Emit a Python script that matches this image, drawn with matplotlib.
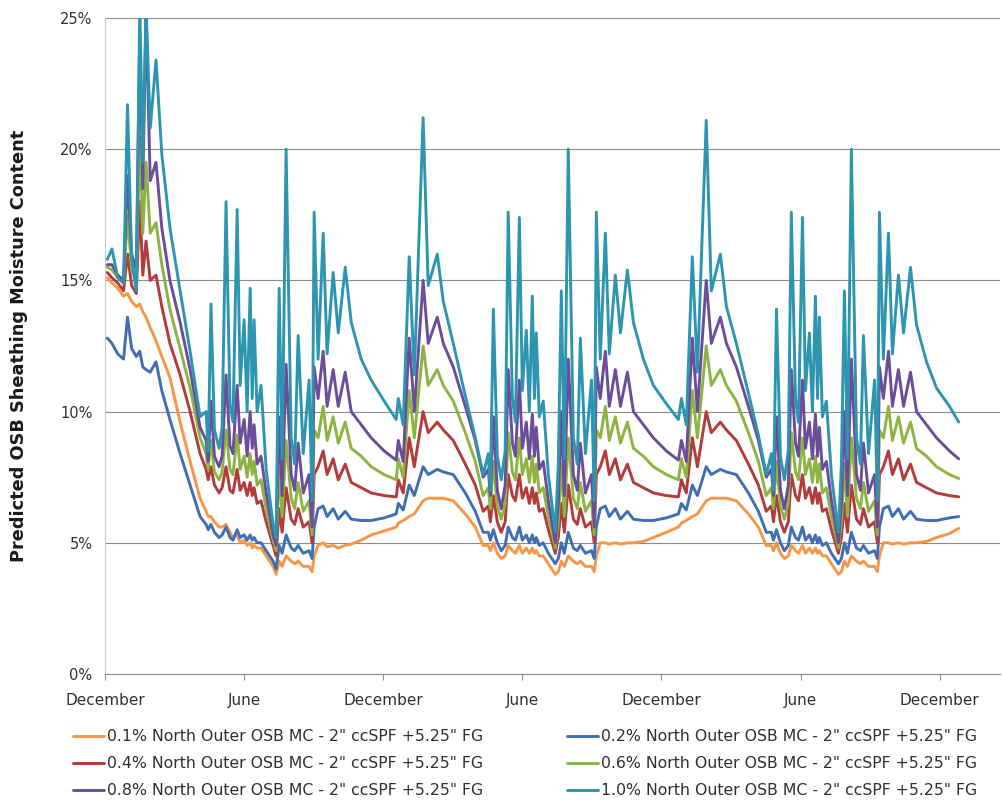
import matplotlib
matplotlib.use("Agg")
import matplotlib.pyplot as plt
from matplotlib.ticker import FuncFormatter

# ---------------- data (months since first December, moisture content %) ----------------
months = [
    # year 1
    0.10, 0.30, 0.55, 0.80, 0.97, 1.15, 1.35, 1.50, 1.63, 1.77,
    1.95, 2.20, 2.45, 2.80, 3.24, 3.67, 4.10, 4.36, 4.45, 4.57,
    4.72, 4.92, 5.05, 5.22, 5.39, 5.52, 5.70, 5.83, 6.00, 6.13,
    6.26, 6.35, 6.43, 6.56, 6.73, 6.95, 7.25, 7.38, 7.51, 7.64,
    7.81, 8.03, 8.18, 8.33, 8.55, 8.80, 8.93, 9.02, 9.19, 9.41,
    9.58, 9.84, 10.06, 10.36, 10.62, 11.05, 11.48, 12.04, 12.56,
    # year 2
    12.65, 12.86, 13.12, 13.34, 13.72, 13.94, 14.33, 14.59, 15.02, 15.54,
    15.97, 16.31, 16.53, 16.62, 16.75, 16.92, 17.09, 17.26, 17.39, 17.57,
    17.70, 17.87, 18.00, 18.17, 18.30, 18.43, 18.52, 18.60, 18.73, 18.90,
    19.12, 19.42, 19.55, 19.68, 19.81, 19.98, 20.20, 20.37, 20.50, 20.72,
    20.98, 21.10, 21.19, 21.36, 21.58, 21.75, 22.01, 22.23, 22.53, 22.79,
    23.22, 23.65, 24.21, 24.73,
    # year 3
    24.86, 25.07, 25.33, 25.55, 25.93, 26.15, 26.54, 26.80, 27.23, 27.75,
    28.18, 28.52, 28.74, 28.83, 28.96, 29.13, 29.30, 29.47, 29.60, 29.78,
    29.91, 30.08, 30.21, 30.38, 30.51, 30.64, 30.73, 30.81, 30.94, 31.11,
    31.33, 31.63, 31.76, 31.89, 32.02, 32.19, 32.41, 32.58, 32.71, 32.93,
    33.19, 33.31, 33.40, 33.57, 33.79, 33.96, 34.22, 34.44, 34.74, 35.00,
    35.43, 35.86, 36.42, 36.82,
]

mc_01 = [
    15.1, 14.9, 14.7, 14.4, 14.5, 14.2, 14.0, 14.1, 13.8, 13.6,
    13.2, 12.7, 12.1, 11.3, 9.6, 8.1, 6.7, 6.2, 6.0, 6.0,
    5.8, 5.6, 5.6, 5.7, 5.4, 5.2, 5.3, 5.0, 5.1, 4.9,
    5.0, 4.8, 4.9, 4.8, 4.8, 4.5, 4.1, 3.8, 4.3, 4.1,
    4.5, 4.3, 4.2, 4.3, 4.1, 4.1, 3.9, 4.5, 4.9, 5.0,
    4.85, 4.9, 4.8, 4.9, 4.95, 5.1, 5.3, 5.45, 5.6,
    5.75, 5.85, 6.0, 6.1, 6.6, 6.7, 6.7, 6.7, 6.6, 6.1,
    5.6, 4.9, 4.9, 4.7, 5.0, 4.6, 4.4, 4.5, 4.9, 4.7,
    4.6, 4.9, 4.6, 4.8, 4.6, 4.8, 4.6, 4.7, 4.5, 4.5,
    4.2, 3.8, 3.9, 4.3, 4.1, 4.5, 4.3, 4.2, 4.3, 4.1,
    4.1, 3.9, 4.5, 5.0, 5.0, 4.95, 5.0, 4.95, 5.0, 5.0,
    5.05, 5.2, 5.4, 5.6,
    5.75, 5.85, 6.0, 6.1, 6.6, 6.7, 6.7, 6.7, 6.6, 6.1,
    5.6, 4.9, 4.9, 4.7, 5.0, 4.6, 4.4, 4.5, 4.9, 4.7,
    4.6, 4.9, 4.6, 4.8, 4.6, 4.8, 4.6, 4.7, 4.5, 4.5,
    4.2, 3.8, 3.9, 4.3, 4.1, 4.5, 4.3, 4.2, 4.3, 4.1,
    4.1, 3.9, 4.5, 5.0, 5.0, 4.95, 5.0, 4.95, 5.0, 5.0,
    5.05, 5.2, 5.35, 5.55,
]

mc_02 = [
    12.8, 12.6, 12.2, 12.0, 13.6, 12.4, 12.1, 12.3, 11.7, 11.6,
    11.5, 11.9, 10.8, 9.7, 8.4, 7.2, 6.0, 5.7, 5.5, 5.7,
    5.4, 5.2, 5.3, 5.6, 5.2, 5.1, 5.5, 5.2, 5.3, 5.1,
    5.3, 5.1, 5.2, 5.0, 5.0, 4.7, 4.3, 4.0, 4.9, 4.6,
    5.3, 4.8, 4.7, 4.9, 4.6, 4.7, 4.4, 5.6, 6.3, 6.4,
    6.0, 6.3, 5.9, 6.2, 5.9, 5.85, 5.85, 5.95, 6.1,
    6.5, 6.25, 7.2, 6.8, 7.9, 7.6, 7.8, 7.7, 7.6, 6.9,
    6.2, 5.4, 5.4, 5.1, 5.5, 5.0, 4.7, 4.9, 5.6, 5.2,
    5.1, 5.6, 5.1, 5.3, 5.0, 5.3, 5.0, 5.2, 4.9, 5.0,
    4.6, 4.2, 4.4, 5.0, 4.6, 5.4, 4.8, 4.7, 4.9, 4.6,
    4.7, 4.4, 5.6, 6.3, 6.4, 6.0, 6.3, 5.9, 6.2, 5.9,
    5.85, 5.85, 5.95, 6.1,
    6.5, 6.25, 7.2, 6.8, 7.9, 7.6, 7.8, 7.7, 7.6, 6.9,
    6.2, 5.4, 5.4, 5.1, 5.5, 5.0, 4.7, 4.9, 5.6, 5.2,
    5.1, 5.6, 5.1, 5.3, 5.0, 5.3, 5.0, 5.2, 4.9, 5.0,
    4.6, 4.2, 4.4, 5.0, 4.6, 5.4, 4.8, 4.7, 4.9, 4.6,
    4.7, 4.4, 5.6, 6.3, 6.4, 6.0, 6.3, 5.9, 6.2, 5.9,
    5.85, 5.85, 5.95, 6.0,
]

mc_04 = [
    15.3, 15.1, 14.9, 14.6, 16.0, 14.8, 14.5, 18.0, 15.2, 16.5,
    15.0, 15.2, 14.0, 12.6, 11.4, 10.0, 8.4, 7.8, 7.4, 7.9,
    7.2, 6.9, 7.1, 7.9, 7.0, 6.9, 7.8, 7.0, 7.3, 6.8,
    7.3, 6.8, 7.1, 6.5, 6.6, 5.8, 4.9, 4.5, 6.3, 5.4,
    7.1, 5.9, 5.7, 6.3, 5.6, 5.8, 5.0, 7.6, 7.9, 8.5,
    7.6, 8.2, 7.4, 8.0, 7.3, 7.1, 6.9, 6.8, 6.75,
    7.4, 6.9, 9.0, 7.9, 10.0, 9.2, 9.6, 9.3, 8.9, 8.0,
    7.2, 6.2, 6.4, 5.8, 6.8, 5.8, 5.4, 5.8, 7.6, 6.8,
    6.6, 7.6, 6.7, 7.1, 6.5, 7.1, 6.5, 6.9, 6.2, 6.3,
    5.5, 4.6, 5.2, 6.5, 5.4, 7.2, 5.9, 5.7, 6.3, 5.6,
    5.8, 5.0, 7.6, 7.9, 8.5, 7.6, 8.2, 7.4, 8.0, 7.3,
    7.1, 6.9, 6.8, 6.75,
    7.4, 6.9, 9.0, 7.9, 10.0, 9.2, 9.6, 9.3, 8.9, 8.0,
    7.2, 6.2, 6.4, 5.8, 6.8, 5.8, 5.4, 5.8, 7.6, 6.8,
    6.6, 7.6, 6.7, 7.1, 6.5, 7.1, 6.5, 6.9, 6.2, 6.3,
    5.5, 4.6, 5.2, 6.5, 5.4, 7.2, 5.9, 5.7, 6.3, 5.6,
    5.8, 5.0, 7.6, 7.9, 8.5, 7.6, 8.2, 7.4, 8.0, 7.3,
    7.1, 6.9, 6.8, 6.75,
]

mc_06 = [
    15.5, 15.4, 15.1, 14.9, 17.5, 15.4, 15.0, 20.5, 16.8, 19.5,
    16.8, 17.2, 15.6, 13.9, 12.4, 10.9, 9.0, 8.4, 7.8, 8.9,
    7.7, 7.4, 7.7, 9.3, 7.8, 7.6, 9.1, 7.8, 8.3, 7.5,
    8.4, 7.6, 8.1, 7.2, 7.4, 6.3, 5.1, 4.7, 7.8, 6.0,
    8.9, 6.7, 6.3, 7.3, 6.2, 6.6, 5.3, 9.3, 9.0, 10.2,
    8.9, 9.8, 8.8, 9.6, 8.6, 8.3, 7.9, 7.6, 7.4,
    8.2, 7.5, 10.8, 9.0, 12.5, 11.0, 11.6, 11.0, 10.4, 9.2,
    8.1, 6.8, 7.1, 6.3, 8.1, 6.4, 5.9, 6.5, 9.2, 7.7,
    7.4, 9.0, 7.6, 8.2, 7.3, 8.3, 7.3, 8.0, 6.9, 7.1,
    6.0, 4.8, 5.8, 8.0, 6.0, 9.0, 6.7, 6.3, 7.3, 6.2,
    6.6, 5.3, 9.3, 9.0, 10.2, 8.9, 9.8, 8.8, 9.6, 8.6,
    8.3, 7.9, 7.6, 7.4,
    8.2, 7.5, 10.8, 9.0, 12.5, 11.0, 11.6, 11.0, 10.4, 9.2,
    8.1, 6.8, 7.1, 6.3, 8.1, 6.4, 5.9, 6.5, 9.2, 7.7,
    7.4, 9.0, 7.6, 8.2, 7.3, 8.3, 7.3, 8.0, 6.9, 7.1,
    6.0, 4.8, 5.8, 8.0, 6.0, 9.0, 6.7, 6.3, 7.3, 6.2,
    6.6, 5.3, 9.3, 9.0, 10.2, 8.9, 9.8, 8.8, 9.6, 8.6,
    8.3, 7.9, 7.6, 7.45,
]

mc_08 = [
    15.6, 15.6, 15.2, 15.0, 19.0, 16.0, 15.4, 24.5, 18.5, 25.3,
    18.8, 19.5, 17.0, 15.0, 13.4, 11.6, 9.4, 8.9, 8.1, 10.4,
    8.3, 7.9, 8.3, 11.4, 8.7, 8.4, 11.0, 8.8, 9.7, 8.3,
    10.0, 8.6, 9.5, 8.0, 8.3, 6.9, 5.3, 4.9, 9.8, 6.8,
    11.8, 7.6, 7.0, 8.8, 6.9, 7.6, 5.6, 11.7, 10.5, 12.3,
    10.2, 11.6, 10.2, 11.5, 10.0, 9.5, 9.0, 8.5, 8.15,
    8.9, 8.1, 12.8, 10.0, 15.0, 12.6, 13.6, 12.6, 11.7, 10.2,
    8.9, 7.5, 7.8, 6.8, 9.8, 7.0, 6.3, 7.2, 11.6, 8.8,
    8.3, 11.2, 8.6, 9.6, 8.2, 9.9, 8.3, 9.4, 7.8, 8.1,
    6.6, 5.0, 6.5, 10.0, 6.8, 12.0, 7.6, 7.0, 8.8, 6.9,
    7.6, 5.6, 11.7, 10.5, 12.3, 10.2, 11.6, 10.2, 11.5, 10.0,
    9.5, 9.0, 8.5, 8.15,
    8.9, 8.1, 12.8, 10.0, 15.0, 12.6, 13.6, 12.6, 11.7, 10.2,
    8.9, 7.5, 7.8, 6.8, 9.8, 7.0, 6.3, 7.2, 11.6, 8.8,
    8.3, 11.2, 8.6, 9.6, 8.2, 9.9, 8.3, 9.4, 7.8, 8.1,
    6.6, 5.0, 6.5, 10.0, 6.8, 12.0, 7.6, 7.0, 8.8, 6.9,
    7.6, 5.6, 11.7, 10.5, 12.3, 10.2, 11.6, 10.2, 11.5, 10.0,
    9.5, 9.0, 8.5, 8.2,
]

mc_10 = [
    15.8, 16.2, 15.1, 14.9, 21.7, 15.8, 14.6, 25.5, 19.5, 25.5,
    20.8, 23.4, 19.8, 17.0, 14.6, 12.3, 9.8, 10.0, 8.5, 14.1,
    9.3, 8.6, 9.4, 18.0, 10.3, 9.6, 17.7, 11.0, 13.5, 10.0,
    14.7, 10.5, 13.5, 10.0, 11.0, 7.8, 5.7, 5.2, 14.7, 8.2,
    20.0, 9.0, 8.0, 12.9, 8.4, 11.2, 6.6, 17.6, 12.0, 16.8,
    12.2, 15.3, 13.0, 15.5, 13.4, 12.0, 11.2, 10.4, 9.7,
    10.5, 9.5, 15.9, 11.4, 21.2, 14.8, 16.0, 14.2, 12.6, 10.6,
    9.0, 7.6, 8.4, 7.0, 13.9, 8.3, 7.4, 8.5, 17.6, 10.5,
    9.6, 17.4, 10.8, 13.1, 10.0, 14.4, 10.5, 13.0, 9.8, 10.4,
    7.6, 5.4, 8.0, 14.6, 8.2, 20.0, 9.0, 8.0, 12.8, 8.4,
    11.2, 6.6, 17.6, 12.0, 16.8, 12.2, 15.2, 13.0, 15.4, 13.4,
    12.0, 11.0, 10.3, 9.7,
    10.5, 9.5, 15.9, 11.5, 21.1, 14.6, 16.0, 14.0, 12.6, 10.7,
    9.1, 7.6, 8.4, 7.0, 13.9, 8.3, 7.4, 8.5, 17.6, 10.5,
    9.6, 17.4, 10.8, 13.0, 10.0, 14.4, 10.5, 13.6, 9.8, 10.4,
    7.6, 5.4, 8.0, 14.6, 8.2, 20.0, 9.0, 8.0, 12.9, 8.4,
    11.2, 6.6, 17.6, 12.0, 16.8, 12.2, 15.2, 13.0, 15.5, 13.3,
    11.9, 10.9, 10.2, 9.6,
]

series_labels = [
    '0.1% North Outer OSB MC - 2" ccSPF +5.25" FG',
    '0.2% North Outer OSB MC - 2" ccSPF +5.25" FG',
    '0.4% North Outer OSB MC - 2" ccSPF +5.25" FG',
    '0.6% North Outer OSB MC - 2" ccSPF +5.25" FG',
    '0.8% North Outer OSB MC - 2" ccSPF +5.25" FG',
    '1.0% North Outer OSB MC - 2" ccSPF +5.25" FG',
]
series_colors = ['#F79646', '#3F6EB5', '#B23B3B', '#8DB443', '#6B4D9A', '#2E95B1']

x_tick_pos = [0, 6, 12, 18, 24, 30, 36]
x_tick_labels = ['December', 'June', 'December', 'June', 'December', 'June', 'December']
y_ticks = [0, 5, 10, 15, 20, 25]
y_label = 'Predicted OSB Sheathing Moisture Content'

# ---------------- figure ----------------
plt.rcParams['font.family'] = ['DejaVu Sans']
W, H = 1003, 805
fig = plt.figure(figsize=(W / 100, H / 100), dpi=100)
ax = fig.add_axes([105 / W, 1 - 674 / H, (1000 - 105) / W, (674 - 18) / H])

all_series = [mc_01, mc_02, mc_04, mc_06, mc_08, mc_10]
handles = []
for vals, col, lab in zip(all_series, series_colors, series_labels):
    h, = ax.plot(months, vals, color=col, lw=2.1, label=lab,
                 solid_joinstyle='round', solid_capstyle='round', zorder=3)
    handles.append(h)

ax.set_xlim(0, 38.6)
ax.set_ylim(0, 25)
ax.set_yticks(y_ticks)
ax.yaxis.set_major_formatter(FuncFormatter(lambda v, p: f'{int(v)}%'))
ax.set_xticks(x_tick_pos)
ax.set_xticklabels(x_tick_labels)

ax.grid(axis='y', color='#8C8C8C', lw=0.8, zorder=0)
ax.set_axisbelow(True)
for s in ['top', 'right']:
    ax.spines[s].set_visible(False)
ax.spines['left'].set_color('#C8C8C8')
ax.spines['left'].set_linewidth(0.8)
ax.spines['bottom'].set_color('#8C8C8C')
ax.spines['bottom'].set_linewidth(0.8)

ax.tick_params(axis='y', length=0, pad=9, labelsize=10.5, labelcolor='#303030')
ax.tick_params(axis='x', length=4, width=0.8, color='#8C8C8C', direction='out',
               pad=9.5, labelsize=11, labelcolor='#303030')

ax.set_ylabel(y_label, fontsize=12.8, fontweight='bold', color='#1A1A1A')
ax.yaxis.set_label_coords(-0.086, 0.50)

# legend: two columns placed separately
leg_kw = dict(frameon=False, fontsize=11.3, handlelength=2.0, handletextpad=0.15,
              labelspacing=0.78, borderpad=0, borderaxespad=0, loc='upper left')
left_idx = [0, 2, 4]
right_idx = [1, 3, 5]
fig.legend([handles[i] for i in left_idx], [series_labels[i] for i in left_idx],
           bbox_to_anchor=(73 / W, 1 - 729 / H), labelcolor='#303030', **leg_kw)
fig.legend([handles[i] for i in right_idx], [series_labels[i] for i in right_idx],
           bbox_to_anchor=(567 / W, 1 - 729 / H), labelcolor='#303030', **leg_kw)

fig.savefig('out.png', dpi=100)
